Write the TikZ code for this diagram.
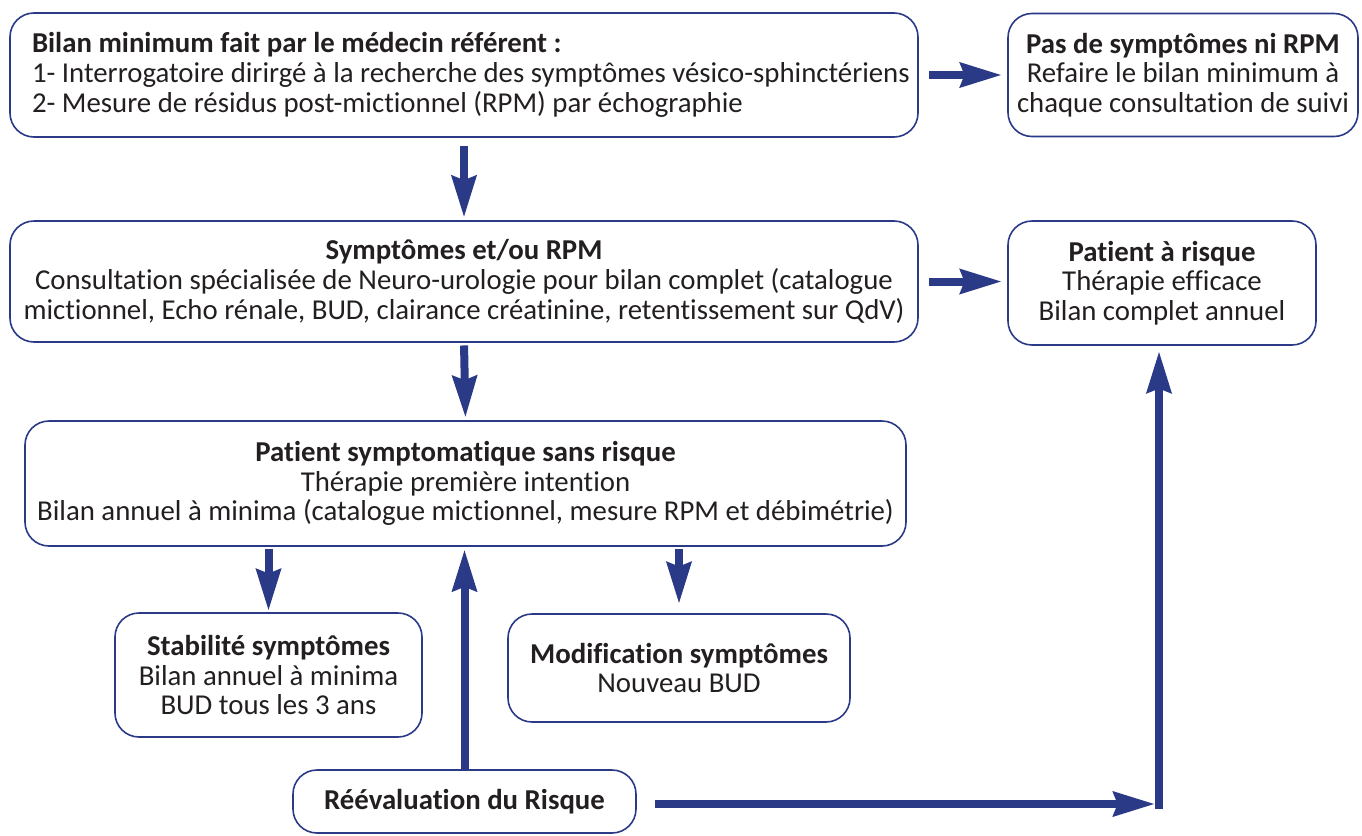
\documentclass[tikz,border=0pt]{standalone}
\usepackage{fontspec}
\setmainfont{Carlito}[RawFeature={-liga;-clig;-calt;-dlig;-hlig}]
\usetikzlibrary{arrows.meta}
\definecolor{bord}{HTML}{2B3A87}
\definecolor{arrc}{HTML}{2B3A87}
\definecolor{txt}{HTML}{231F20}
\begin{document}
\begin{tikzpicture}[x=0.75pt,y=-0.75pt,
  box/.style={draw=bord,line width=1.2pt,rounded corners=18pt,text=txt,
    font=\fontsize{21.6}{22.3}\selectfont,align=center,inner sep=0pt},
  arr/.style={draw=arrc,line width=6pt,-{Stealth[length=31pt,width=18pt,inset=3pt]}},
  bar/.style={draw=arrc,line width=6pt}]
\useasboundingbox (0,0) rectangle (1362,835);
\node[box,align=flush left,text width=648pt,inner xsep=16.5pt,minimum height=93pt] (b1) at (464,75)
  {\mbox{\textbf{Bilan minimum fait par le médecin référent :}}\\
   \mbox{1- Interrogatoire dirirgé à la recherche des symptômes vésico-sphinctériens}\\
   \mbox{2- Mesure de résidus post-mictionnel (RPM) par échographie}};
\node[box,minimum width=262.5pt,minimum height=92.25pt] (b2) at (1183,75)
  {\textbf{Pas de symptômes ni RPM}\\Refaire le bilan minimum à\\chaque consultation de suivi};
\node[box,minimum width=681pt,minimum height=90.75pt] (b3) at (464,281.5)
  {\textbf{Symptômes et/ou RPM}\\Consultation spécialisée de Neuro-urologie pour bilan complet (catalogue\\mictionnel, Echo rénale, BUD, clairance créatinine, retentissement sur QdV)};
\node[box,minimum width=231pt,minimum height=93pt] (b4) at (1162,283)
  {\textbf{Patient à risque}\\Thérapie efficace\\Bilan complet annuel};
\node[box,minimum width=660.75pt,minimum height=93.75pt] (b5) at (465.5,483.5)
  {\textbf{Patient symptomatique sans risque}\\Thérapie première intention\\Bilan annuel à minima (catalogue mictionnel, mesure RPM et débimétrie)};
\node[box,minimum width=230.25pt,minimum height=93pt] (b6) at (268.5,675)
  {\textbf{Stabilité symptômes}\\Bilan annuel à minima\\BUD tous les 3 ans};
\node[box,minimum width=256.5pt,minimum height=81pt] (b7) at (679,668)
  {\textbf{Modification symptômes}\\Nouveau BUD};
\node[box,minimum width=257.25pt,minimum height=47.25pt] (b8) at (464.5,801.5)
  {\textbf{Réévaluation du Risque}};
\coordinate (corner) at (1159,804);
\draw[arr] ([xshift=7.5pt]b1.east) -- ([xshift=-4pt]b2.west);
\draw[arr,shorten <=6pt,shorten >=2pt] (b1.south) -- (b3.north);
\draw[arr] ([xshift=7.5pt]b3.east) -- ([xshift=-4pt]b3.east -| b4.west);
\draw[arr,shorten <=2pt,shorten >=2pt] (b3.south) -- (b5.north);
\draw[arr,shorten <=1.5pt,shorten >=1pt] (b6.north |- b5.south) -- (b6.north);
\draw[arr,shorten <=1.5pt,shorten >=7pt] (b7.north |- b5.south) -- (b7.north);
\draw[arr,shorten >=2pt] (b8.north) -- (b8.north |- b5.south);
\draw[arr] ([xshift=14pt]b8.east |- corner) -- ([xshift=-3pt]corner);
\draw[bar,-{Stealth[length=31pt,width=18pt,inset=3pt]},shorten >=4pt] ([yshift=-3.75pt]corner) -- (corner |- b4.south);
\end{tikzpicture}
\end{document}
